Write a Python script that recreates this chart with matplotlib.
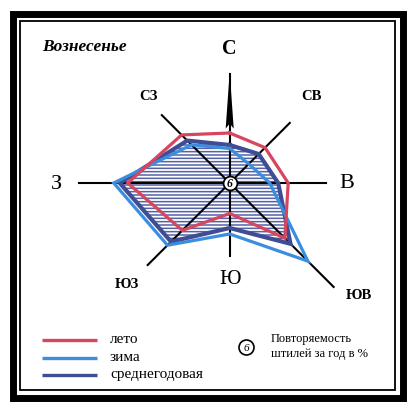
import numpy as np
import matplotlib
matplotlib.use('Agg')
import matplotlib.pyplot as plt
from matplotlib.patches import Rectangle, Circle

plt.rcParams['font.family'] = ['Liberation Serif', 'DejaVu Serif']
plt.rcParams['hatch.linewidth'] = 1.1

# directions clockwise from north
directions = ['С', 'СВ', 'В', 'ЮВ', 'Ю', 'ЮЗ', 'З', 'СЗ']
angles_deg = [0, 45, 90, 135, 180, 225, 270, 315]

# wind frequency, %
leto = [10.0, 10.0, 11.7, 15.6, 6.1, 13.4, 20.4, 13.6]
zima = [6.9, 5.4, 8.0, 22.1, 10.2, 17.6, 23.2, 10.8]
srednegod = [7.6, 8.2, 9.7, 17.2, 9.0, 16.6, 22.0, 12.0]
calm = 6

# length of the direction lines (same units)
axis_len = [21.8, 17.0, 19.2, 29.4, 14.6, 23.2, 30.2, 19.2]

RED = '#d8455e'
BLUE = '#3b8ede'
NAVY = '#3f4d94'

W, H = 411, 414
fig = plt.figure(figsize=(W / 100, H / 100), dpi=100)
fig.patch.set_facecolor('white')

# overlay in pixel coords for frame and legend
ov = fig.add_axes([0, 0, 1, 1])
ov.set_xlim(0, W)
ov.set_ylim(H, 0)
ov.axis('off')

ov.add_patch(Rectangle((12.5, 14.5), 390, 385, fill=False, lw=5.0, ec='black'))
ov.add_patch(Rectangle((19.5, 21.5), 375, 369, fill=False, lw=1.3, ec='black'))

ov.text(42, 47, 'Вознесенье', fontsize=12.5, fontweight='bold', fontstyle='italic',
        va='center', ha='left')

# legend
for y, col, lab in [(341, RED, 'лето'), (358.5, BLUE, 'зима'), (376, NAVY, 'среднегодовая')]:
    ov.plot([42, 97], [y, y], color=col, lw=2.4, solid_capstyle='butt')
    ov.text(110, y - 1, lab, fontsize=11, va='center', ha='left')
ov.add_patch(Circle((246.5, 348.5), 7.5, fill=False, ec='black', lw=1.2))
ov.text(246.5, 348.5, str(calm), fontsize=8, fontstyle='italic', ha='center', va='center')
ov.text(271, 339, 'Повторяемость', fontsize=9, va='center', ha='left')
ov.text(271, 354, 'штилей за год в %', fontsize=9, va='center', ha='left')

# wind rose, 1 unit = 5 px
cx, cy = 229.7, 184.0
R = 32
pw, ph = 2 * R * 5, 2 * R * 5
ax = fig.add_axes([(cx - R * 5) / W, (H - cy - R * 5) / H, pw / W, ph / H], projection='polar')
ax.set_theta_zero_location('N')
ax.set_theta_direction(-1)
ax.set_ylim(0, R)
ax.patch.set_visible(False)
ax.axis('off')

th = np.deg2rad(angles_deg)
th_c = np.append(th, th[0])


def closed(v):
    return np.append(v, v[0])


ax.fill(th_c, closed(srednegod), facecolor='white', edgecolor='#5463a8', lw=0,
        hatch='-----', zorder=1)

for t, L in zip(th, axis_len):
    ax.plot([t, t], [0, L], color='black', lw=1.5, zorder=2, clip_on=False)

# north arrow
ax.fill([0, -0.074, 0, 0.074], [22.2, 10.9, 11.9, 10.9], color='black', lw=0, zorder=2)

ax.plot(th_c, closed(srednegod), color=NAVY, lw=3.0, zorder=3, solid_joinstyle='miter')
ax.plot(th_c, closed(zima), color=BLUE, lw=2.3, zorder=4, solid_joinstyle='miter')
ax.plot(th_c, closed(leto), color=RED, lw=2.3, zorder=5, solid_joinstyle='miter')

ax.plot([0], [0], marker='o', ms=10, mfc='white', mec='black', mew=1.3, zorder=6)
ax.text(0, 0, str(calm), fontsize=8.5, fontstyle='italic', fontweight='bold',
        ha='center', va='center', zorder=7)

# direction labels: (theta deg, r, size, weight)
lab_pos = [(0, 27.0, 14.5, 'bold'), (43.2, 24.0, 10.5, 'bold'), (90, 23.4, 16, 'normal'),
           (130.8, 34.0, 10.5, 'bold'), (180, 19.0, 15, 'normal'), (225.5, 28.8, 10.5, 'bold'),
           (270, 34.6, 16, 'normal'), (317, 23.9, 10.5, 'bold')]
for name, (a, r, fs, fw) in zip(directions, lab_pos):
    ax.text(np.deg2rad(a), r, name, fontsize=fs, fontweight=fw, ha='center', va='center')

fig.savefig('out.png', dpi=100, facecolor='white')
